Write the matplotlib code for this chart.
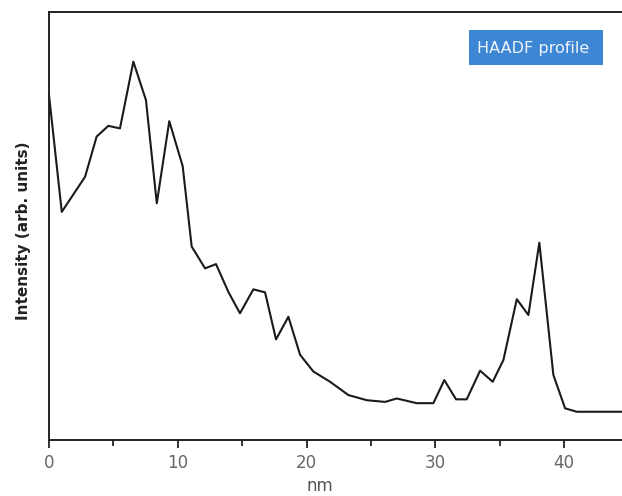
import matplotlib
matplotlib.use("Agg")
import matplotlib.pyplot as plt
from matplotlib.ticker import MultipleLocator
from matplotlib.patches import Rectangle

# HAADF line profile (arb. units, 0-100 scale)
pos_nm = [0.0, 0.99, 2.80, 3.70, 4.61, 5.51, 6.55, 7.53, 8.37, 9.34,
          10.38, 11.08, 12.12, 12.97, 13.93, 14.83, 15.87, 16.78, 17.63, 18.59,
          19.50, 20.53, 21.83, 23.25, 24.68, 26.10, 27.01, 28.56, 29.85, 30.70,
          31.61, 32.44, 33.48, 34.46, 35.29, 36.33, 37.23, 38.08, 39.17, 40.08,
          40.99, 44.6]
intensity = [80.6, 53.3, 61.5, 70.9, 73.4, 72.8, 88.4, 79.4, 55.3, 74.5,
             64.0, 45.2, 40.1, 41.1, 34.6, 29.6, 35.2, 34.5, 23.5, 28.8,
             19.9, 16.0, 13.6, 10.5, 9.3, 8.9, 9.7, 8.6, 8.6, 14.0,
             9.5, 9.5, 16.2, 13.6, 18.7, 32.9, 29.2, 46.1, 15.2, 7.4,
             6.6, 6.6]

fig = plt.figure(figsize=(6.22, 4.96), dpi=100)
ax = fig.add_axes([0.0788, 0.1129, 0.9212, 0.8629])

ax.plot(pos_nm, intensity, color="#1a1a1a", lw=1.5)

ax.set_xlim(0, 44.5)
ax.set_ylim(0, 100)

ax.xaxis.set_major_locator(MultipleLocator(10))
ax.xaxis.set_minor_locator(MultipleLocator(5))
ax.tick_params(axis="x", which="major", length=6, width=1.3, color="#222222",
               labelsize=12, labelcolor="#666666", pad=4)
ax.tick_params(axis="x", which="minor", length=4, width=1.3, color="#222222")
ax.set_yticks([])

for s in ["left", "bottom", "top"]:
    ax.spines[s].set_linewidth(1.4)
    ax.spines[s].set_color("#222222")
ax.spines["right"].set_visible(False)

ax.set_xlabel("nm", fontsize=12, color="#555555")
ax.xaxis.set_label_coords(0.473, -0.087)
ax.set_ylabel("Intensity (arb. units)", fontsize=11, fontweight="bold",
              color="#222222")
ax.yaxis.set_label_coords(-0.032, 0.49)

# blue label box, top right
ax.add_patch(Rectangle((0.733, 0.876), 0.234, 0.082, transform=ax.transAxes,
                       facecolor="#3d86d4", edgecolor="none", zorder=3))
ax.text(0.845, 0.915, "HAADF profile", transform=ax.transAxes,
        fontsize=11.5, color="#eef4fb", ha="center", va="center", zorder=4)

fig.savefig("out.png", dpi=100)
